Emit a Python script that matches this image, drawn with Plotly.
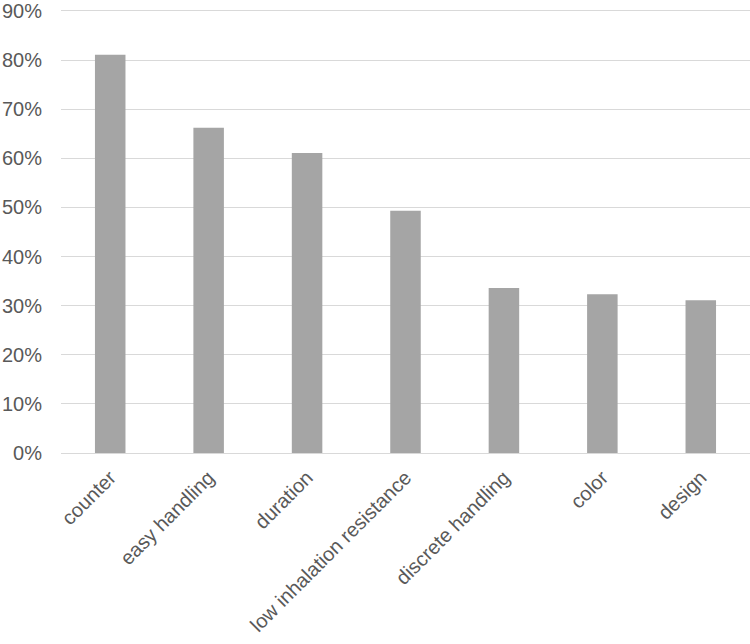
import plotly.graph_objects as go

categories = ["counter", "easy handling", "duration", "low inhalation resistance",
              "discrete handling", "color", "design"]
values = [0.811, 0.662, 0.611, 0.493, 0.336, 0.323, 0.311]

fig = go.Figure()
fig.add_bar(x=categories, y=values, marker=dict(color="#A5A5A5", line=dict(width=0)))

fig.update_layout(
    width=750, height=644,
    margin=dict(l=61, r=0, t=9, b=191),
    plot_bgcolor="white", paper_bgcolor="white",
    bargap=0.69,
    showlegend=False,
    font=dict(family="Liberation Sans, Arial", size=20, color="#595959"),
)
# range a little above 0.9 so plotly still draws the 90% gridline
fig.update_yaxes(range=[0, 0.904], dtick=0.1, tickformat=".0%",
                 showgrid=True, gridcolor="#D9D9D9", gridwidth=1,
                 zeroline=True, zerolinecolor="#D9D9D9", zerolinewidth=1,
                 ticklabelstandoff=18, ticklabeloverflow="allow",
                 showline=False, automargin=False)
fig.update_xaxes(tickangle=-45, showline=False, showgrid=False, automargin=False,
                 ticklabelstandoff=8, ticklabeloverflow="allow")

# drop the default 8px body margin so the chart sits at the page corner
fig.write_html("out.html", config={"displayModeBar": False},
               post_script="document.body.style.margin='0';")
